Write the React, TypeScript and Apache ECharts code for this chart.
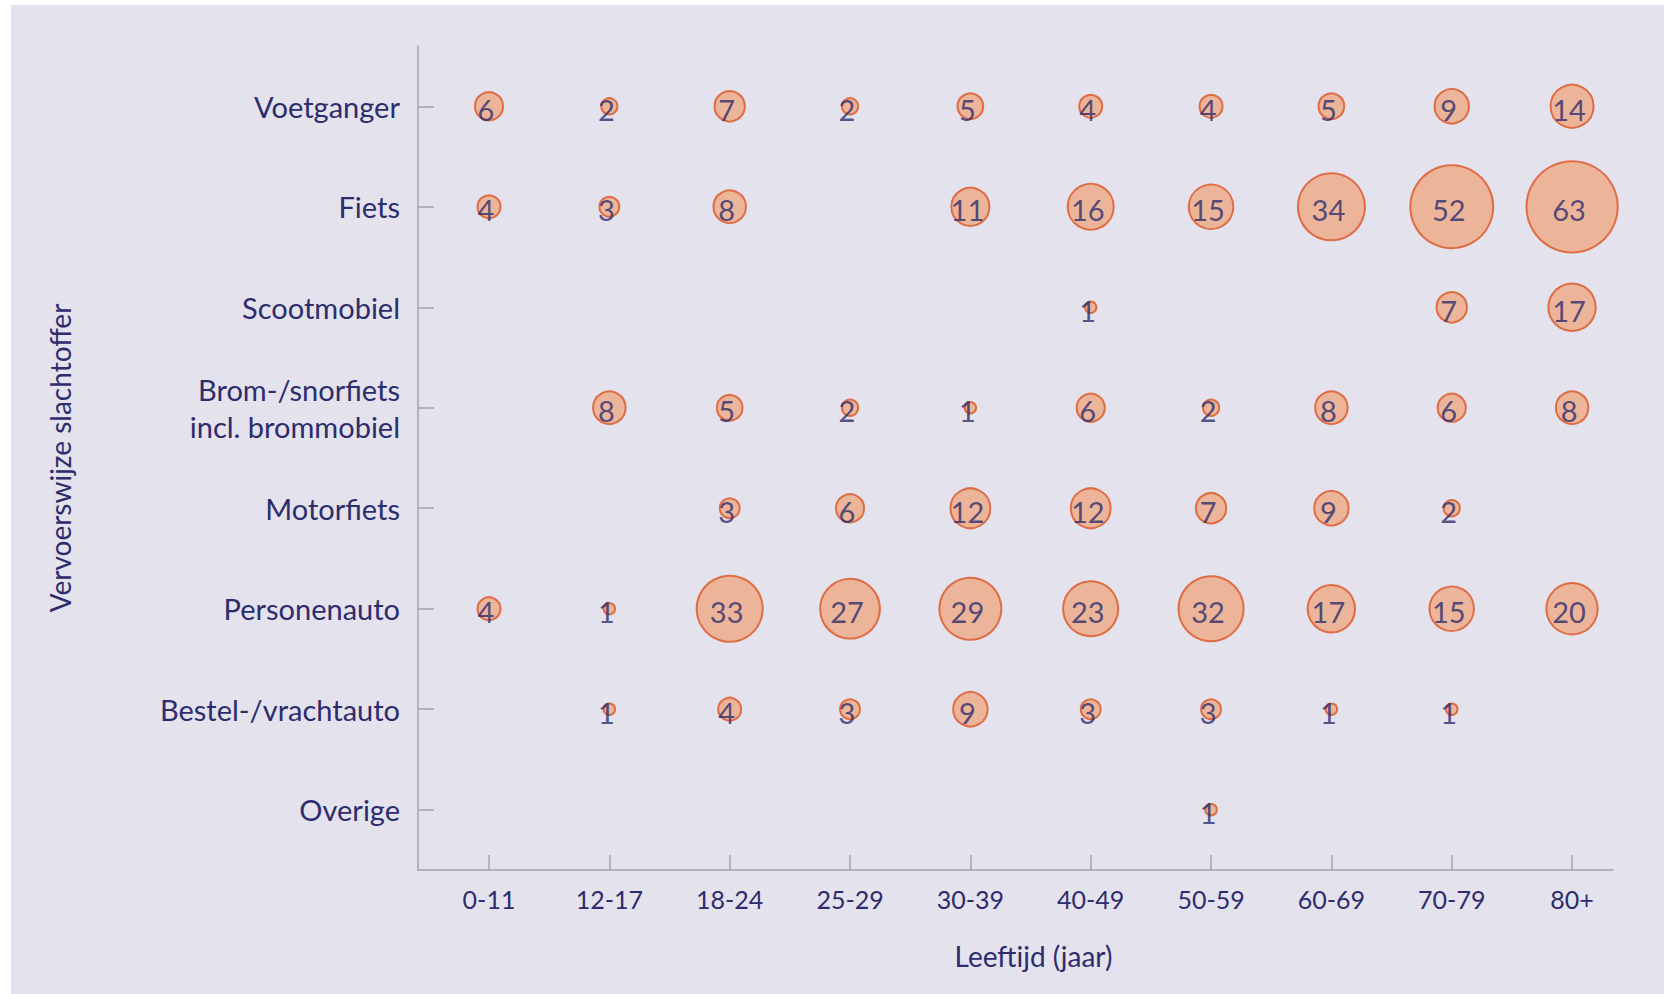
import React, { useEffect, useRef } from "react";
import * as echarts from "echarts";

const ageGroups = ["0-11", "12-17", "18-24", "25-29", "30-39", "40-49", "50-59", "60-69", "70-79", "80+"];
const modes = [
  "Voetganger",
  "Fiets",
  "Scootmobiel",
  "Brom-/snorfiets\nincl. brommobiel",
  "Motorfiets",
  "Personenauto",
  "Bestel-/vrachtauto",
  "Overige",
];

const voetganger = [6, 2, 7, 2, 5, 4, 4, 5, 9, 14];
const fiets = [4, 3, 8, null, 11, 16, 15, 34, 52, 63];
const scootmobiel = [null, null, null, null, null, 1, null, null, 7, 17];
const brom = [null, 8, 5, 2, 1, 6, 2, 8, 6, 8];
const motorfiets = [null, null, 3, 6, 12, 12, 7, 9, 2, null];
const personenauto = [4, 1, 33, 27, 29, 23, 32, 17, 15, 20];
const bestel = [null, 1, 4, 3, 9, 3, 3, 1, 1, null];
const overige = [null, null, null, null, null, null, 1, null, null, null];

const rows = [voetganger, fiets, scootmobiel, brom, motorfiets, personenauto, bestel, overige];

const TEXT = "#2d2c6c";
const FONT = "Lato";

export default function App() {
  const ref = useRef<HTMLDivElement>(null);

  useEffect(() => {
    if (!ref.current) return;
    const chart = echarts.init(ref.current, null, { renderer: "svg" });
    const n = modes.length;
    const data: number[][] = [];
    rows.forEach((row, r) => {
      row.forEach((v, c) => {
        if (v !== null && v !== undefined) data.push([c, n - 1 - r, v as number]);
      });
    });

    chart.setOption({
      animation: false,
      backgroundColor: "#ffffff",
      textStyle: { fontFamily: FONT },
      graphic: [
        {
          type: "rect",
          silent: true,
          z: -10,
          shape: { x: 11, y: 5, width: 1653, height: 989 },
          style: { fill: "#e4e2ec" },
        },
      ],
      grid: { left: 418, right: 51, top: 46, bottom: 124 },
      xAxis: {
        type: "value",
        min: -0.59,
        max: 9.34,
        name: "Leeftijd (jaar)",
        nameLocation: "middle",
        nameGap: 72,
        nameTextStyle: { color: TEXT, fontSize: 28, fontFamily: FONT, padding: [0, 0, 0, 36] },
        axisLine: { show: true, onZero: false, lineStyle: { color: "#a3a3ab", width: 1.5 } },
        axisTick: {
          show: true,
          inside: true,
          length: 15,
          customValues: ageGroups.map((_, i) => i),
          lineStyle: { color: "#a3a3ab", width: 1.5 },
        },
        axisLabel: {
          show: true,
          customValues: ageGroups.map((_, i) => i),
          formatter: (v: number) => ageGroups[Math.round(v)] ?? "",
          color: TEXT,
          fontSize: 25,
          fontFamily: FONT,
          margin: 16,
        },
        splitLine: { show: false },
      },
      yAxis: {
        type: "value",
        min: -0.6,
        max: 7.6,
        name: "Vervoerswijze slachtoffer",
        nameLocation: "middle",
        nameRotate: 90,
        nameGap: 344,
        nameTextStyle: { color: TEXT, fontSize: 28, fontFamily: FONT },
        axisLine: { show: true, onZero: false, lineStyle: { color: "#a3a3ab", width: 1.5 } },
        axisTick: {
          show: true,
          inside: true,
          length: 16,
          customValues: modes.map((_, i) => i),
          lineStyle: { color: "#a3a3ab", width: 1.5 },
        },
        axisLabel: {
          show: true,
          customValues: modes.map((_, i) => i),
          formatter: (v: number) => modes[n - 1 - Math.round(v)] ?? "",
          color: TEXT,
          fontSize: 29,
          fontFamily: FONT,
          lineHeight: 37,
          align: "right",
          margin: 18,
          padding: [0, 0, 10, 0],
        },
        splitLine: { show: false },
      },
      series: [
        {
          type: "scatter",
          data,
          symbol: "circle",
          symbolSize: (d: number[]) => 11.5 * Math.sqrt(d[2]),
          itemStyle: { color: "#eeaa86", borderColor: "#dc5524", borderWidth: 2 },
          label: {
            show: true,
            position: "inside",
            offset: [-3, 3],
            formatter: (p: any) => String(p.value[2]),
            color: TEXT,
            fontSize: 29,
            fontFamily: FONT,
          },
        },
      ],
    });

    return () => chart.dispose();
  }, []);

  return (
    <div
      ref={ref}
      style={{ position: "fixed", left: 0, top: 0, width: 1664, height: 994 }}
    />
  );
}
